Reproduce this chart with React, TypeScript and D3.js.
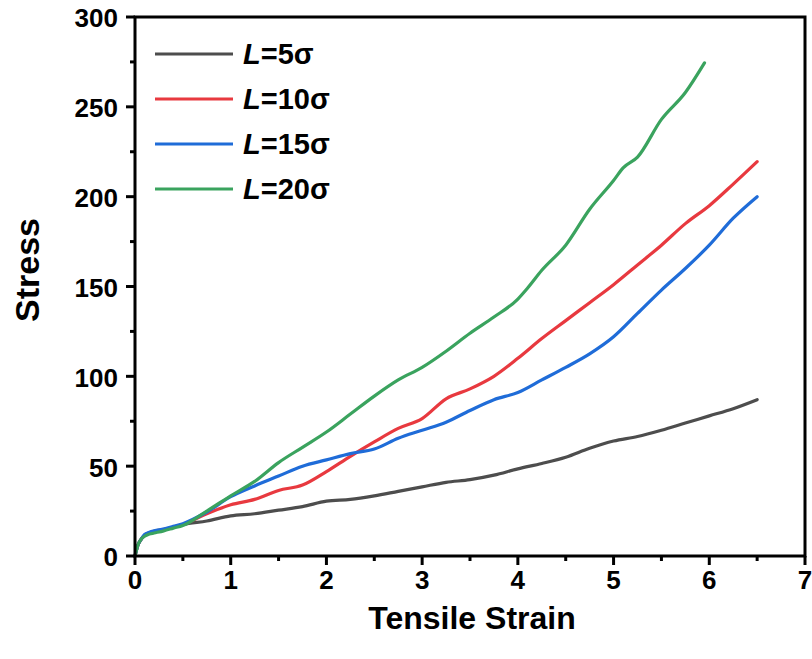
import React from "react";
import * as d3 from "d3";

const strainGrid = [0, 0.03, 0.06, 0.1, 0.15, 0.2, 0.3, 0.4, 0.5, 0.75, 1.0, 1.25, 1.5, 1.75, 2.0, 2.25, 2.5, 2.75, 3.0, 3.25, 3.5, 3.75, 4.0, 4.25, 4.5, 4.75, 5.0, 5.25, 5.5, 5.75, 6.0, 6.25, 6.5];
const strainL20 = [0, 0.03, 0.06, 0.1, 0.15, 0.2, 0.3, 0.4, 0.5, 0.75, 1.0, 1.25, 1.5, 1.75, 2.0, 2.25, 2.5, 2.75, 3.0, 3.25, 3.5, 3.75, 4.0, 4.1, 4.25, 4.5, 4.75, 5.0, 5.1, 5.25, 5.5, 5.75, 5.95];

const stressL5 = [0, 6, 9, 11.5, 13, 13.8, 14.8, 16, 17.5, 19.5, 22.3, 23.5, 25.5, 27.5, 30.5, 31.5, 33.5, 36, 38.5, 41, 42.5, 45, 48.5, 51.5, 55, 60, 64, 66.5, 70, 74, 78, 82, 87];
const stressL10 = [0, 6, 9, 11.5, 13, 13.5, 14.5, 16, 17.5, 23.5, 28.5, 31.5, 36.5, 39.5, 47, 55.5, 63.5, 71, 76.5, 87.5, 93, 100, 110, 121, 131, 141, 151, 162, 173, 185, 195, 207, 219.5];
const stressL15 = [0, 6, 9, 12, 13.2, 14, 15, 16.5, 18, 24.5, 33, 39, 44.5, 50, 53.5, 57, 59.5, 65.5, 70, 74.5, 81, 87, 91, 98, 105, 112.5, 122, 135, 148, 160, 173, 188, 200];
const stressL20 = [0, 6, 9, 11, 12.2, 12.8, 14, 15.5, 17, 25, 33.5, 41.5, 52, 60.5, 69, 79, 89, 98, 105, 114, 124, 133, 143, 149, 159, 173, 193, 209, 216, 222, 243, 258, 274.5];

const seriesNames = ["5", "10", "15", "20"];
const seriesColors = ["#4d4d4d", "#e8393f", "#1f6cd8", "#3aa35e"];

const xTicks = [0, 1, 2, 3, 4, 5, 6, 7];
const yTicks = [0, 50, 100, 150, 200, 250, 300];

const W = 812, H = 659;
const left = 135, right = 805, top = 17, bottom = 556;

export default function App() {
  const x = d3.scaleLinear().domain([0, 7]).range([left, right]);
  const y = d3.scaleLinear().domain([0, 300]).range([bottom, top]);
  const line = d3.line<[number, number]>().x(d => x(d[0])).y(d => y(d[1])).curve(d3.curveMonotoneX);
  const series = [
    { name: seriesNames[0], color: seriesColors[0], pts: strainGrid.map((s, i) => [s, stressL5[i]] as [number, number]) },
    { name: seriesNames[1], color: seriesColors[1], pts: strainGrid.map((s, i) => [s, stressL10[i]] as [number, number]) },
    { name: seriesNames[2], color: seriesColors[2], pts: strainGrid.map((s, i) => [s, stressL15[i]] as [number, number]) },
    { name: seriesNames[3], color: seriesColors[3], pts: strainL20.map((s, i) => [s, stressL20[i]] as [number, number]) },
  ];
  const xMinor = d3.range(0.5, 7, 1);
  const yMinor = d3.range(25, 300, 50);
  const font = "'Liberation Sans', Arial, sans-serif";
  return (
    <svg width={W} height={H} style={{ display: "block", position: "absolute", left: 0, top: 0, background: "#fff" }}>
      <rect x={0} y={0} width={W} height={H} fill="#fff" />
      {series.map(s => (
        <path key={s.name} d={line(s.pts) || ""} fill="none" stroke={s.color} strokeWidth={3.2} strokeLinejoin="round" strokeLinecap="round" />
      ))}
      <rect x={left} y={top} width={right - left} height={bottom - top} fill="none" stroke="#000" strokeWidth={3} />
      {xTicks.map(t => (
        <g key={"xt" + t}>
          <line x1={x(t)} x2={x(t)} y1={bottom} y2={bottom + 9} stroke="#000" strokeWidth={3} />
          <text x={x(t)} y={589} textAnchor="middle" fontFamily={font} fontWeight="bold" fontSize={26}>{t}</text>
        </g>
      ))}
      {xMinor.map(t => (
        <line key={"xm" + t} x1={x(t)} x2={x(t)} y1={bottom} y2={bottom + 5} stroke="#000" strokeWidth={3} />
      ))}
      {yTicks.map(t => (
        <g key={"yt" + t}>
          <line x1={left - 9} x2={left} y1={y(t)} y2={y(t)} stroke="#000" strokeWidth={3} />
          <text x={118} y={y(t) + 1} dy="0.36em" textAnchor="end" fontFamily={font} fontWeight="bold" fontSize={26}>{t}</text>
        </g>
      ))}
      {yMinor.map(t => (
        <line key={"ym" + t} x1={left - 5} x2={left} y1={y(t)} y2={y(t)} stroke="#000" strokeWidth={3} />
      ))}
      <text x={(left + right) / 2 + 2} y={629} textAnchor="middle" fontFamily={font} fontWeight="bold" fontSize={32}>Tensile Strain</text>
      <text transform={`translate(39, 270) rotate(-90)`} textAnchor="middle" fontFamily={font} fontWeight="bold" fontSize={34}>Stress</text>
      {series.map((s, i) => {
        const ly = 54 + i * 45;
        return (
          <g key={"lg" + s.name}>
            <line x1={155} x2={233} y1={ly} y2={ly} stroke={s.color} strokeWidth={3.2} />
            <text x={243} y={ly + 10} fontFamily={font} fontWeight="bold" fontSize={29}>
              <tspan fontStyle="italic">L</tspan>={s.name}σ
            </text>
          </g>
        );
      })}
    </svg>
  );
}
